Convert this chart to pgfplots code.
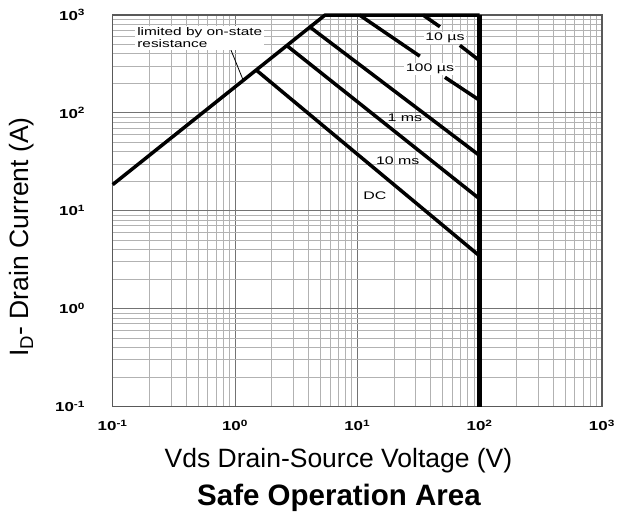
\documentclass[border=0pt]{standalone}
\usepackage{fontspec}
\setmainfont{Liberation Sans}
\usepackage{graphicx}
\usepackage{pgfplots}
\pgfplotsset{compat=1.18}
\newcommand{\tl}[1]{\scalebox{1.3}[1]{\fontsize{13}{15}\selectfont\bfseries 10\textsuperscript{#1}}}
\begin{document}
\begin{tikzpicture}
\useasboundingbox (-112.7pt,-108.5pt) rectangle (508.3pt,406.5pt);
\begin{axis}[
 at={(0,0)}, anchor=south west,
 scale only axis, width=489.3pt, height=391.5pt,
 xmode=log, ymode=log,
 xmin=0.1, xmax=1000, ymin=0.1, ymax=1000,
 xtick={0.1,1,10,100,1000},
 xticklabels={\tl{-1},\tl{0},\tl{1},\tl{2},\tl{3}},
 ytick={0.1,1,10,100,1000},
 yticklabels={\tl{-1},\tl{0},\tl{1},\tl{2},\tl{3}},
 xticklabel style={yshift=-10pt},
 yticklabel style={xshift=-24pt},
 major tick length=0pt, minor tick length=0pt,
 grid=both,
 minor grid style={draw=black!30, line width=1pt},
 major grid style={draw=black!55, line width=1pt},
 axis line style={draw=black!65, line width=1.2pt},
 clip=false,
]
% on-state resistance limit and top current limit
\addplot[black, line width=3.5pt, line join=round] coordinates {(0.1,18.5) (5.45,1000) (100,1000)};
% voltage limit
\addplot[black, line width=5.5pt] coordinates {(100,0.1) (100,1000)};
% DC
\addplot[black, line width=3.5pt] coordinates {(1.49,274) (100,3.45)};
% 10 ms
\addplot[black, line width=3.5pt] coordinates {(2.65,487) (100,13.2)};
% 1 ms
\addplot[black, line width=3.5pt] coordinates {(4.1,753) (100,36.6)};
% 100 us
\addplot[black, line width=3.5pt] coordinates {(10.4,1000) (32.4,380)};
\addplot[black, line width=3.5pt] coordinates {(52,231) (100,134.3)};
% 10 us
\addplot[black, line width=3.5pt] coordinates {(34.4,1000) (47.3,759)};
\addplot[black, line width=3.5pt] coordinates {(68.9,490) (100,341)};
% leader line
\addplot[black, line width=0.8pt] coordinates {(0.906,470) (1.157,221)};
% labels
\node[fill=white, inner sep=1.5pt, anchor=west, align=left, xscale=1.4,
      font=\fontsize{11}{12}\selectfont] at (axis cs:0.152,582) {limited by on-state\\resistance};
\node[fill=white, inner sep=1pt, xscale=1.45, font=\fontsize{11}{12}\selectfont] at (axis cs:52,581) {10 µs};
\node[fill=white, inner sep=1pt, xscale=1.45, font=\fontsize{11}{12}\selectfont] at (axis cs:39.2,279) {100 µs};
\node[inner sep=1pt, xscale=1.45, font=\fontsize{11}{12}\selectfont] at (axis cs:24.5,90) {1 ms};
\node[inner sep=1pt, xscale=1.45, font=\fontsize{11}{12}\selectfont] at (axis cs:21.4,32.6) {10 ms};
\node[inner sep=1pt, xscale=1.45, font=\fontsize{11}{12}\selectfont] at (axis cs:13.9,14.3) {DC};
\end{axis}
\node[rotate=90, font=\fontsize{26.5}{30}\selectfont] at (-90.7pt,169.5pt) {I\textsubscript{D}- Drain Current (A)};
\node[anchor=base, font=\fontsize{26.5}{30}\selectfont] at (225.8pt,-60.5pt) {Vds Drain-Source Voltage (V)};
\node[anchor=base, font=\fontsize{29.5}{32}\selectfont\bfseries] at (226.3pt,-98.5pt) {Safe Operation Area};
\end{tikzpicture}
\end{document}
